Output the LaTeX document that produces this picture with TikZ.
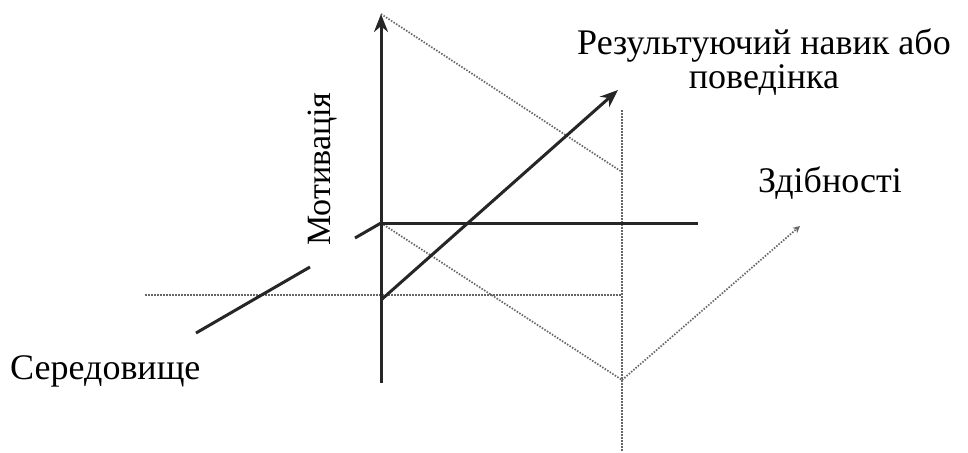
\documentclass[tikz,border=0pt]{standalone}
\usepackage{fontspec}
\setmainfont{Liberation Serif}
\usetikzlibrary{arrows.meta}
\begin{document}
\begin{tikzpicture}[x=1pt,y=-1pt,
  solidline/.style={line width=3pt,black!85,line cap=butt},
  dotline/.style={line width=1.7pt,black!60,dash pattern=on 1.5pt off 1.5pt},
  lbl/.style={font=\fontsize{36}{33}\selectfont,inner sep=0pt},
  bigtip/.style={-{Stealth[length=18pt,width=14pt]}},
  smalltip/.style={-{Stealth[length=7pt,width=7pt]}}]
\useasboundingbox (0,0) rectangle (968,452);
% points
\coordinate (O) at (381,223);
\coordinate (vb) at (381,383);
\coordinate (vt) at (381,14);
\coordinate (hr) at (698,223);
\coordinate (zs) at (355,238);
\coordinate (za) at (310,267);
\coordinate (zb) at (196,333);
\coordinate (dl) at (145,295);
\coordinate (dr) at (622,295);
\coordinate (as) at (381,300);
\coordinate (ae) at (618,90);
\coordinate (pt) at (622,110);
\coordinate (pm) at (622,172);
\coordinate (pb) at (622,452);
\coordinate (pv) at (622,380);
\coordinate (ze) at (800,226);
% dotted lines
\draw[dotline] (dl) -- (dr);
\draw[dotline] (vt) -- (pm);
\draw[dotline] (pt) -- (pb);
\draw[dotline] (O) -- (pv);
\draw[dotline,smalltip] (pv) -- (ze);
% solid lines
\draw[solidline,bigtip] (vb) -- (vt);
\draw[solidline] (O) -- (hr);
\draw[solidline] (zs) -- (O);
\draw[solidline] (zb) -- (za);
\draw[solidline,bigtip] (as) -- (ae);
% labels
\node[lbl,align=center,anchor=base] (res) at (764,88) {Результуючий навик або\\поведінка};
\node[lbl,anchor=base] (zd) at (830,192) {Здібності};
\node[lbl,anchor=base,rotate=90,font=\fontsize{34}{36}\selectfont] (mot) at (330,169) {Мотивація};
\node[lbl,anchor=base west] (ser) at (10,379) {Середовище};
\end{tikzpicture}
\end{document}
